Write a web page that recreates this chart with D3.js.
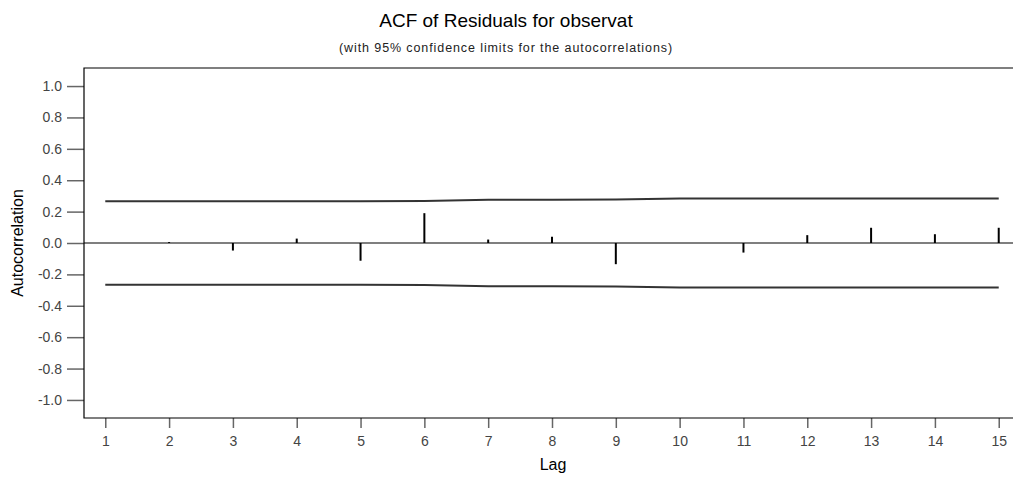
<!DOCTYPE html>
<html>
<head>
<meta charset="utf-8">
<script src="https://cdn.jsdelivr.net/npm/d3@7"></script>
<style>
  body { margin: 0; background: #fff; }
  svg { display: block; font-family: "Liberation Sans", Arial, sans-serif; }
</style>
</head>
<body>
<svg id="chart"></svg>
<script>
// lags and residual autocorrelations
var lags = [1, 2, 3, 4, 5, 6, 7, 8, 9, 10, 11, 12, 13, 14, 15];
var acf = [0.0, 0.006, -0.048, 0.028, -0.113, 0.19, 0.022, 0.04, -0.135, 0.0, -0.061, 0.05, 0.097, 0.056, 0.097];
// 95% confidence limit (upper; lower is the negative)
var limit = [0.266, 0.266, 0.266, 0.266, 0.266, 0.267, 0.275, 0.276, 0.277, 0.283, 0.283, 0.283, 0.283, 0.283, 0.283];
var yTicks = [1.0, 0.8, 0.6, 0.4, 0.2, 0.0, -0.2, -0.4, -0.6, -0.8, -1.0];

var width = 1013, height = 482;
var svg = d3.select('#chart').attr('width', width).attr('height', height);

var x = d3.scaleLinear().domain([2 / 3, 15 + 1 / 3]).range([84, 1020]);
var y = d3.scaleLinear().domain([-1.115, 1.115]).range([418, 68]);

// title
svg.append('text')
  .attr('x', 506).attr('y', 27)
  .attr('text-anchor', 'middle')
  .style('font-size', '19px')
  .attr('fill', '#000')
  .text('ACF of Residuals for observat');

svg.append('text')
  .attr('x', 506).attr('y', 52)
  .attr('text-anchor', 'middle')
  .style('font-size', '12.5px')
  .style('letter-spacing', '0.9px')
  .attr('fill', '#222')
  .text('(with 95% confidence limits for the autocorrelations)');

// y axis
var yAxis = svg.append('g')
  .attr('transform', 'translate(84,0)')
  .call(d3.axisLeft(y).tickValues(yTicks).tickSize(17).tickPadding(5)
    .tickFormat(d3.format('.1f')).tickSizeOuter(0));
yAxis.select('.domain').remove();
yAxis.selectAll('line').attr('stroke', '#666').attr('stroke-width', 1.5);
yAxis.selectAll('text').attr('fill', '#444').style('font-size', '14px')
  .style('font-family', '"Liberation Sans", Arial, sans-serif')
  .text(function (d) { return d3.format('.1f')(d).replace('−', '-'); });

// x axis
var xAxis = svg.append('g')
  .attr('transform', 'translate(0,418)')
  .call(d3.axisBottom(x).tickValues(lags).tickSize(10).tickPadding(8)
    .tickFormat(d3.format('d')).tickSizeOuter(0));
xAxis.select('.domain').remove();
xAxis.selectAll('line').attr('stroke', '#666').attr('stroke-width', 1.5);
xAxis.selectAll('text').attr('fill', '#444').style('font-size', '14px')
  .style('font-family', '"Liberation Sans", Arial, sans-serif');

// frame (top, left, bottom)
svg.append('path')
  .attr('d', 'M' + x.range()[1] + ',' + y.range()[1] + 'H' + x.range()[0] + 'V' + y.range()[0] + 'H' + x.range()[1])
  .attr('fill', 'none')
  .attr('stroke', '#000')
  .attr('stroke-width', 1.2);

// zero line
svg.append('line')
  .attr('x1', x.range()[0]).attr('x2', width)
  .attr('y1', y(0)).attr('y2', y(0))
  .attr('stroke', '#000').attr('stroke-width', 1.2);

// confidence limits
var limLine = d3.line()
  .x(function (d, i) { return x(lags[i]); })
  .y(function (d) { return y(d); });

svg.append('path')
  .datum(limit)
  .attr('d', limLine)
  .attr('fill', 'none').attr('stroke', '#333').attr('stroke-width', 2);

svg.append('path')
  .datum(limit.map(function (v) { return -v; }))
  .attr('d', limLine)
  .attr('fill', 'none').attr('stroke', '#333').attr('stroke-width', 2);

// spikes
svg.append('g').selectAll('line')
  .data(acf)
  .enter()
  .append('line')
  .attr('x1', function (d, i) { return x(lags[i]); })
  .attr('x2', function (d, i) { return x(lags[i]); })
  .attr('y1', y(0))
  .attr('y2', function (d) { return y(d); })
  .attr('stroke', '#000')
  .attr('stroke-width', 2);

// axis labels
svg.append('text')
  .attr('transform', 'translate(23,243) rotate(-90)')
  .attr('text-anchor', 'middle')
  .style('font-size', '16px')
  .attr('fill', '#000')
  .text('Autocorrelation');

svg.append('text')
  .attr('x', 553).attr('y', 470)
  .attr('text-anchor', 'middle')
  .style('font-size', '16px')
  .attr('fill', '#000')
  .text('Lag');
</script>
</body>
</html>
